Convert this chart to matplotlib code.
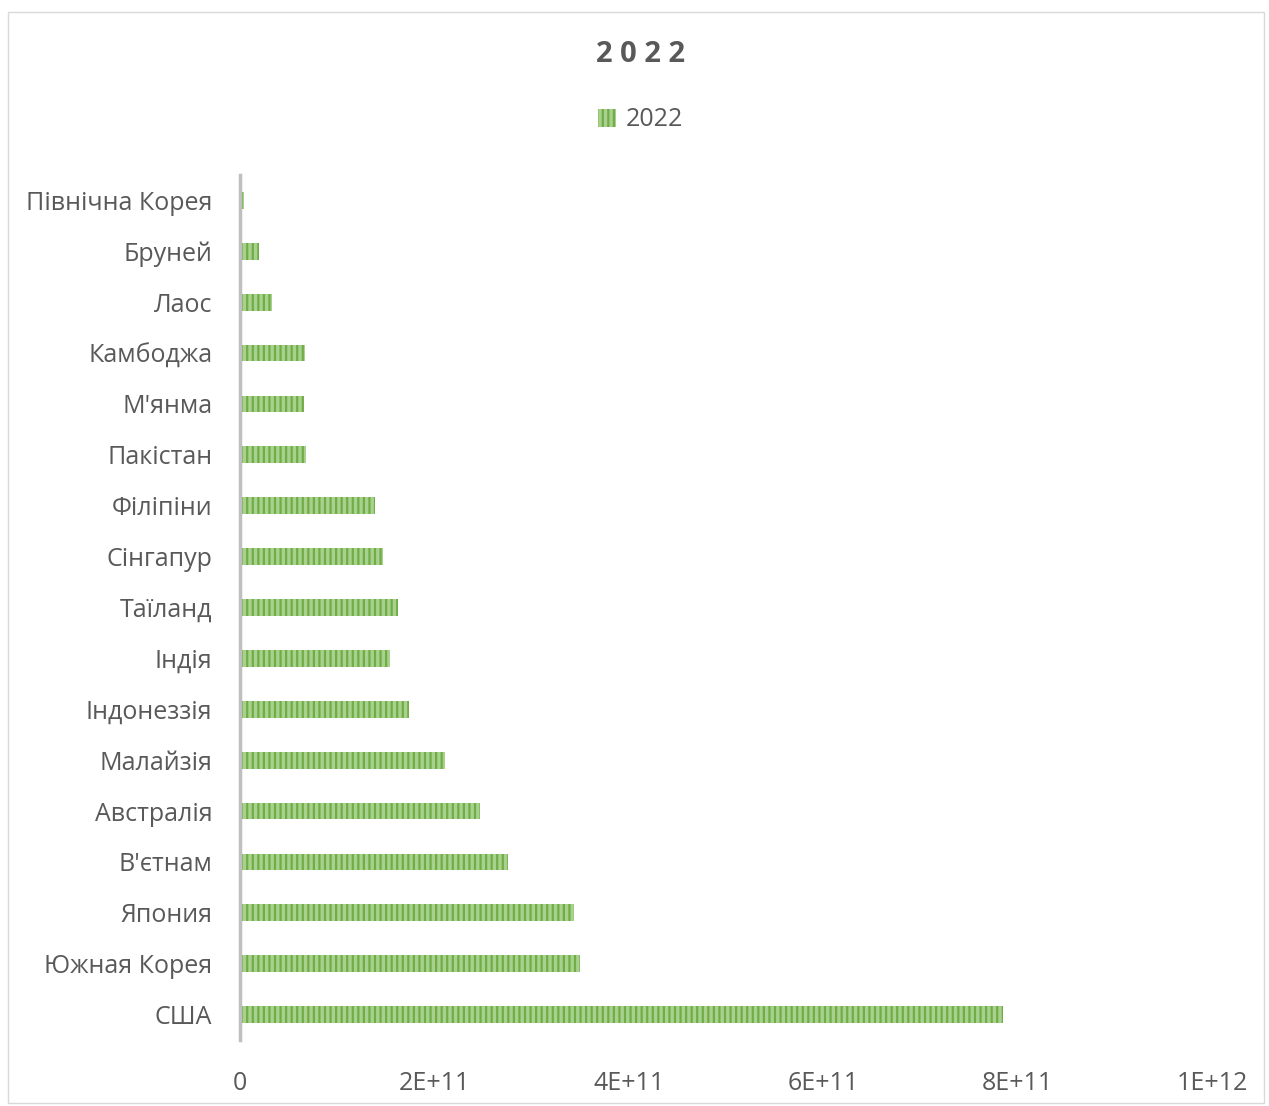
import matplotlib.pyplot as plt
from matplotlib.patches import Rectangle

plt.rcParams['font.family'] = ['Open Sans', 'DejaVu Sans']
plt.rcParams['hatch.linewidth'] = 1.6

# Країни (знизу вгору) та значення за 2022 рік
countries = ['США', 'Южная Корея', 'Япония', "В'єтнам", 'Австралія', 'Малайзія',
             'Індонеззія', 'Індія', 'Таїланд', 'Сінгапур', 'Філіпіни', 'Пакістан',
             "М'янма", 'Камбоджа', 'Лаос', 'Бруней', 'Північна Корея']
values = [7.85e11, 3.50e11, 3.44e11, 2.76e11, 2.47e11, 2.11e11,
          1.74e11, 1.54e11, 1.63e11, 1.47e11, 1.39e11, 6.8e10,
          6.6e10, 6.7e10, 3.3e10, 2.0e10, 4.0e9]
xticks = [0, 2e11, 4e11, 6e11, 8e11, 1e12]
xtick_labels = ['0', '2E+11', '4E+11', '6E+11', '8E+11', '1E+12']

grey = '#595959'
fig = plt.figure(figsize=(12.69, 11.06), dpi=100)
fig.patches.append(Rectangle((0.006, 0.003), 0.99, 0.986, transform=fig.transFigure,
                             fill=False, edgecolor='#d9d9d9', linewidth=1))

ax = fig.add_axes([240 / 1269, 1 - 1040 / 1106, (1212 - 240) / 1269, (1040 - 175) / 1106])
ax.barh(range(len(countries)), values, height=0.33, color='#a9d18e',
        edgecolor='#70ad47', hatch='|||', linewidth=0, label='2022')

ax.set_xlim(0, 1e12)
ax.set_ylim(-0.5, len(countries) - 0.5)
ax.set_yticks(range(len(countries)))
ax.set_yticklabels(countries, fontsize=18, color=grey)
ax.set_xticks(xticks)
ax.set_xticklabels(xtick_labels, fontsize=18, color=grey)
ax.tick_params(axis='y', length=0, pad=20)
ax.tick_params(axis='x', length=0, pad=22)
for s in ['top', 'right', 'bottom']:
    ax.spines[s].set_visible(False)
ax.spines['left'].set_color('#bfbfbf')
ax.spines['left'].set_linewidth(2.5)

fig.text(0.505, 1 - 54 / 1106, '2 0 2 2', ha='center', va='center',
         fontsize=21, fontweight='bold', color=grey)
fig.legend(loc='center', bbox_to_anchor=(0.505, 1 - 120 / 1106), frameon=False,
           fontsize=18, labelcolor=grey, handlelength=0.7, handleheight=0.7,
           handletextpad=0.4)

fig.savefig('out.png', dpi=100)
